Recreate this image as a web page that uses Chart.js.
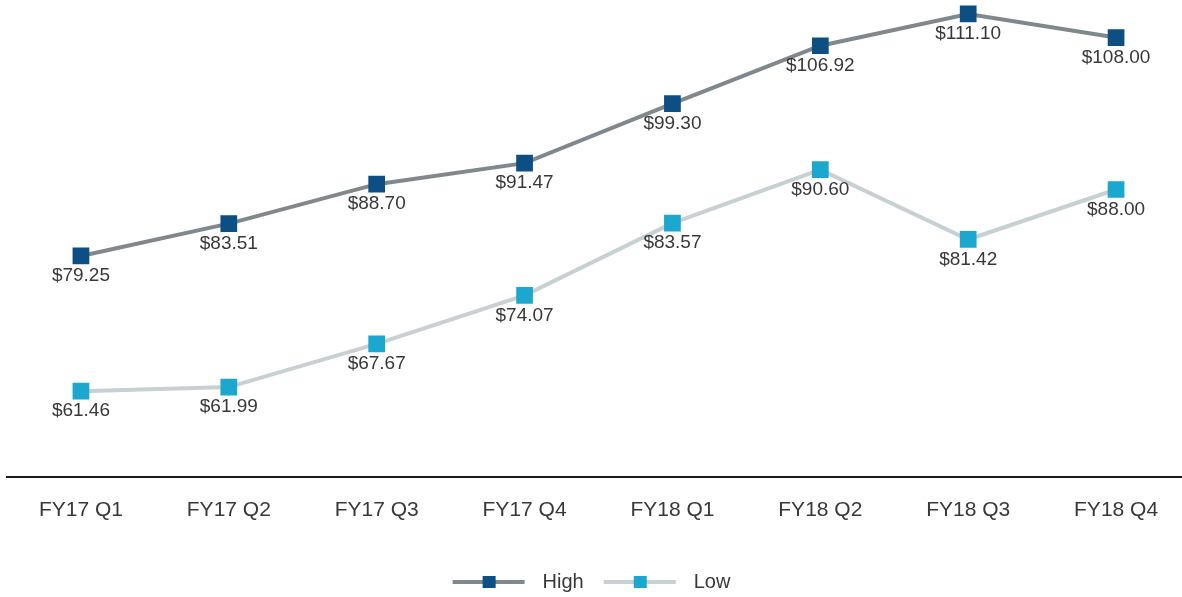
<!DOCTYPE html>
<html>
<head>
<meta charset="utf-8">
<script src="https://cdn.jsdelivr.net/npm/chart.js@4"></script>
<style>
  html, body { margin: 0; padding: 0; background: #fff; overflow: hidden; }
  #wrap { position: relative; width: 1190px; height: 597px; }
</style>
</head>
<body>
<div id="wrap"><canvas id="priceChart"></canvas></div>
<script>
// Dati del grafico
const quarters = ['FY17 Q1', 'FY17 Q2', 'FY17 Q3', 'FY17 Q4', 'FY18 Q1', 'FY18 Q2', 'FY18 Q3', 'FY18 Q4'];
const highValues = [79.25, 83.51, 88.70, 91.47, 99.30, 106.92, 111.10, 108.00];
const lowValues = [61.46, 61.99, 67.67, 74.07, 83.57, 90.60, 81.42, 88.00];

const HIGH_LINE = '#7f898d';
const HIGH_MARK = '#0d4f82';
const LOW_LINE = '#c7d0d3';
const LOW_MARK = '#1ca7cf';
const TEXT = '#383838';
const FONT = '"Liberation Sans", Arial, sans-serif';

// Icona legenda: linea con quadrato al centro
function legendIcon(lineColor, markColor) {
  const c = document.createElement('canvas');
  c.width = 88;
  c.height = 14;
  const ctx = c.getContext('2d');
  ctx.strokeStyle = lineColor;
  ctx.lineWidth = 4;
  ctx.beginPath();
  ctx.moveTo(8, 7);
  ctx.lineTo(80, 7);
  ctx.stroke();
  ctx.fillStyle = markColor;
  ctx.fillRect(38, 1, 13, 12);
  return c;
}

// Etichette dei valori sotto i punti
const valueLabels = {
  id: 'valueLabels',
  afterLayout(chart) {
    // sposta un po' la legenda (sinistra e in basso), come nell'originale
    if (chart.legend) {
      chart.legend.left -= 11;
      chart.legend.right -= 11;
      chart.legend.top += 5;
      chart.legend.bottom += 5;
    }
  },
  afterDatasetsDraw(chart) {
    const ctx = chart.ctx;
    ctx.save();
    ctx.font = '19px ' + FONT;
    ctx.fillStyle = TEXT;
    ctx.textAlign = 'center';
    ctx.textBaseline = 'middle';
    chart.data.datasets.forEach((ds, i) => {
      chart.getDatasetMeta(i).data.forEach((pt, j) => {
        ctx.fillText('$' + ds.data[j].toFixed(2), pt.x, pt.y + 20);
      });
    });
    ctx.restore();
  }
};

new Chart(document.getElementById('priceChart'), {
  type: 'line',
  data: {
    labels: quarters,
    datasets: [
      {
        label: 'High',
        data: highValues,
        borderColor: HIGH_LINE,
        backgroundColor: HIGH_MARK,
        pointBackgroundColor: HIGH_MARK,
        pointBorderColor: HIGH_MARK,
        pointStyle: 'rect',
        pointRadius: 9,
        borderWidth: 4,
        tension: 0
      },
      {
        label: 'Low',
        data: lowValues,
        borderColor: LOW_LINE,
        backgroundColor: LOW_MARK,
        pointBackgroundColor: LOW_MARK,
        pointBorderColor: LOW_MARK,
        pointStyle: 'rect',
        pointRadius: 9,
        borderWidth: 4,
        tension: 0
      }
    ]
  },
  options: {
    responsive: true,
    maintainAspectRatio: false,
    animation: false,
    layout: { autoPadding: false, padding: { left: 7, right: 0, top: 0, bottom: 0 } },
    plugins: {
      tooltip: { enabled: false },
      legend: {
        position: 'bottom',
        labels: {
          usePointStyle: true,
          pointStyleWidth: 88,
          boxHeight: 14,
          padding: 12,
          color: TEXT,
          font: { family: FONT, size: 20 },
          generateLabels(chart) {
            return [
              { text: 'High', pointStyle: legendIcon(HIGH_LINE, HIGH_MARK), datasetIndex: 0, fontColor: TEXT, lineWidth: 0 },
              { text: 'Low', pointStyle: legendIcon(LOW_LINE, LOW_MARK), datasetIndex: 1, fontColor: TEXT, lineWidth: 0 }
            ];
          }
        }
      }
    },
    scales: {
      x: {
        offset: true,
        grid: { display: false, drawTicks: false },
        border: { display: true, color: '#1a1a1a', width: 2 },
        ticks: {
          padding: 21,
          color: TEXT,
          font: { family: FONT, size: 21 }
        },
        afterFit(scale) {
          scale.height = 78;
        }
      },
      y: {
        display: false,
        min: 50.16,
        max: 112.94
      }
    }
  },
  plugins: [valueLabels]
});
</script>
</body>
</html>
